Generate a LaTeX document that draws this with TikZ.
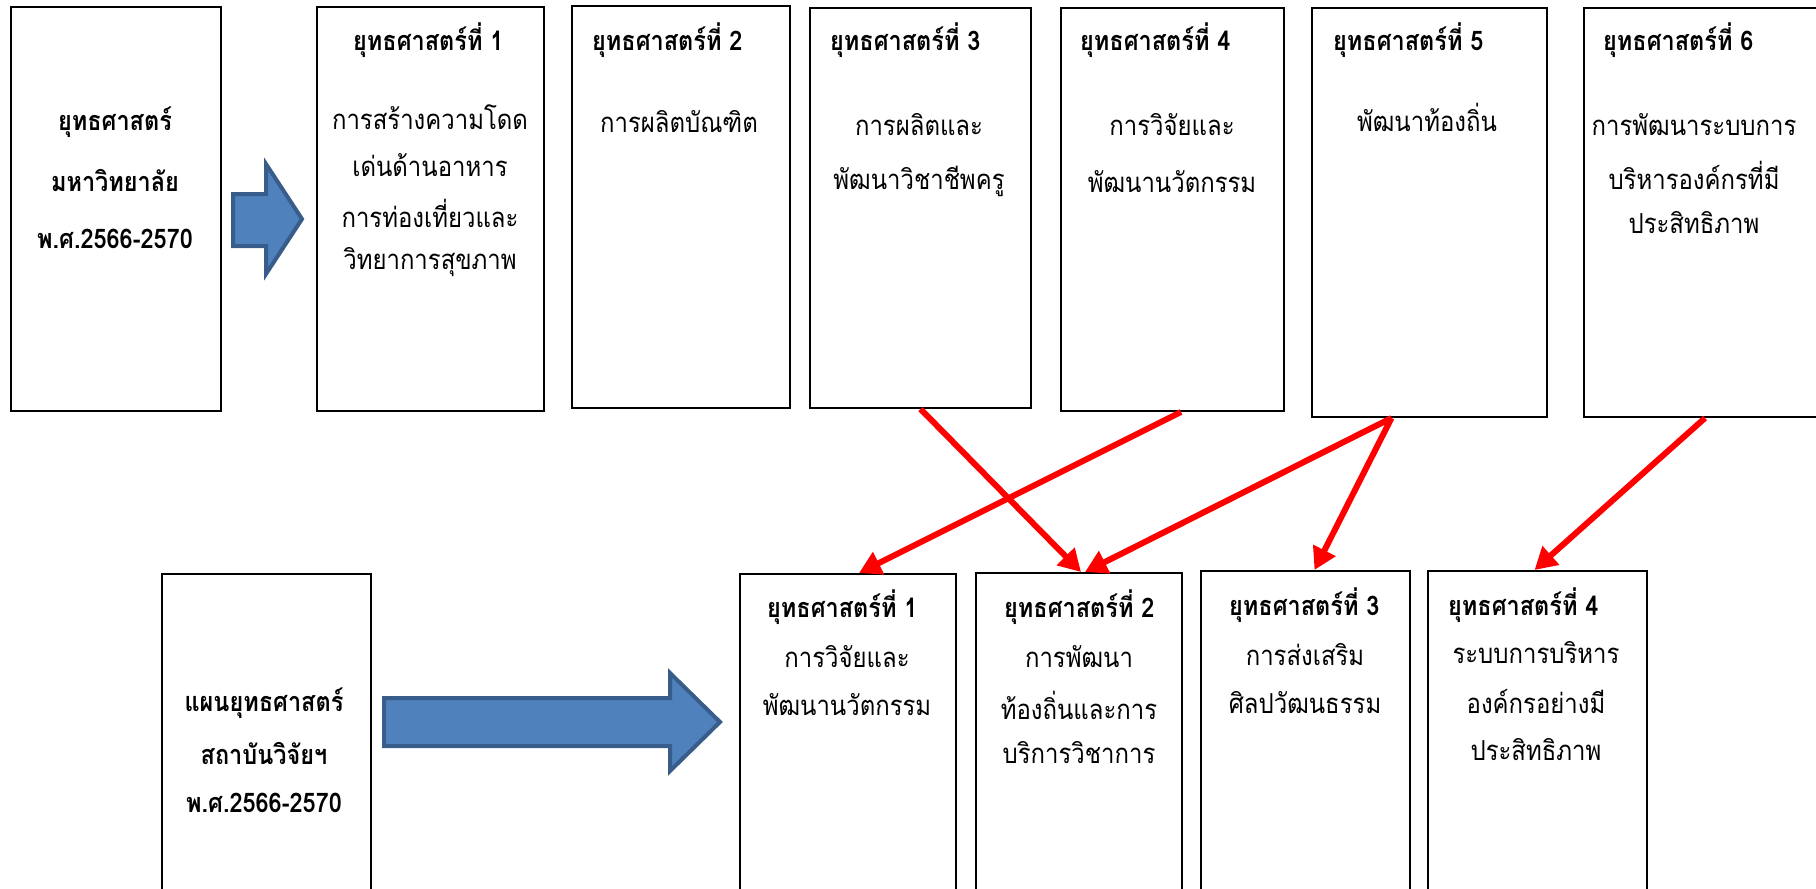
\documentclass[tikz,border=0pt]{standalone}
\usepackage{fontspec}
\setmainfont{Loma}[Script=Thai, FakeStretch=0.87]
\usetikzlibrary{arrows.meta,calc}
\definecolor{arrowblue}{HTML}{4F81BD}
\definecolor{arrowedge}{HTML}{385D8A}
\begin{document}
\begin{tikzpicture}[x=1pt,y=-1pt,
  box/.style={draw=black, line width=2pt, inner sep=0pt, anchor=north west},
  ttl/.style={font=\fontsize{27}{30}\selectfont\bfseries, inner sep=0pt},
  txt/.style={font=\fontsize{27.5}{30}\selectfont, inner sep=0pt},
  redarr/.style={draw=red, line width=6pt, -{Triangle[length=22pt,width=24pt]}},
  blockarr/.style={fill=arrowblue, draw=arrowedge, line width=4pt, line join=miter}
]
\useasboundingbox (0,0) rectangle (1816,889);
% top boxes
\node[box, minimum width=210pt, minimum height=404pt] (a) at (10,6) {};
\node[box, minimum width=227pt, minimum height=404pt] (t1) at (316,6) {};
\node[box, minimum width=218pt, minimum height=402pt] (t2) at (571,5) {};
\node[box, minimum width=221pt, minimum height=400pt] (t3) at (809,7) {};
\node[box, minimum width=223pt, minimum height=403pt] (t4) at (1060,7) {};
\node[box, minimum width=235pt, minimum height=409pt] (t5) at (1311,7) {};
\node[box, minimum width=260pt, minimum height=409pt] (t6) at (1583,7) {};
% bottom boxes
\node[box, minimum width=209pt, minimum height=340pt] (b) at (161,573) {};
\node[box, minimum width=216pt, minimum height=340pt] (s1) at (739,573) {};
\node[box, minimum width=206pt, minimum height=340pt] (s2) at (975,572) {};
\node[box, minimum width=209pt, minimum height=340pt] (s3) at (1200,570) {};
\node[box, minimum width=219pt, minimum height=340pt] (s4) at (1427,570) {};

% block arrows
\path[blockarr] (233,194) -- (266,194) -- (266,164) -- (302,219) -- (266,274) -- (266,246) -- (233,246) -- cycle;
\path[blockarr] (384,698) -- (670,698) -- (670,673) -- (720,722) -- (670,771) -- (670,746) -- (384,746) -- cycle;

% texts top
\node[ttl] (a1) at (115,122) {ยุทธศาสตร์};
\node[ttl] (a2) at (115,181) {มหาวิทยาลัย};
\node[ttl] (a3) at (115,239) {พ.ศ.2566-2570};

\node[ttl, anchor=west] (t1h) at (353,40) {ยุทธศาสตร์ที่ 1};
\node[txt] (t1a) at (430,117) {การสร้างความโดด};
\node[txt] (t1b) at (430,165) {เด่นด้านอาหาร};
\node[txt] (t1c) at (430,213) {การท่องเที่ยวและ};
\node[txt] (t1d) at (430,262) {วิทยาการสุขภาพ};

\node[ttl, anchor=west] (t2h) at (592,40) {ยุทธศาสตร์ที่ 2};
\node[txt] (t2a) at (679,122) {การผลิตบัณฑิต};

\node[ttl, anchor=west] (t3h) at (830,40) {ยุทธศาสตร์ที่ 3};
\node[txt] (t3a) at (919,125) {การผลิตและ};
\node[txt] (t3b) at (919,181) {พัฒนาวิชาชีพครู};

\node[ttl, anchor=west] (t4h) at (1080,40) {ยุทธศาสตร์ที่ 4};
\node[txt] (t4a) at (1172,125) {การวิจัยและ};
\node[txt] (t4b) at (1172,182) {พัฒนานวัตกรรม};

\node[ttl, anchor=west] (t5h) at (1333,40) {ยุทธศาสตร์ที่ 5};
\node[txt] (t5a) at (1427,117) {พัฒนาท้องถิ่น};

\node[ttl, anchor=west] (t6h) at (1603,40) {ยุทธศาสตร์ที่ 6};
\node[txt] (t6a) at (1694,125) {การพัฒนาระบบการ};
\node[txt] (t6b) at (1694,175) {บริหารองค์กรที่มี};
\node[txt] (t6c) at (1694,223) {ประสิทธิภาพ};

% texts bottom
\node[ttl] (b1) at (264,703) {แผนยุทธศาสตร์};
\node[ttl] (b2) at (264,753) {สถาบันวิจัยฯ};
\node[ttl] (b3) at (264,803) {พ.ศ.2566-2570};

\node[ttl, anchor=west] (s1h) at (767,607) {ยุทธศาสตร์ที่ 1};
\node[txt] (s1a) at (847,657) {การวิจัยและ};
\node[txt] (s1b) at (847,705) {พัฒนานวัตกรรม};

\node[ttl, anchor=west] (s2h) at (1004,607) {ยุทธศาสตร์ที่ 2};
\node[txt] (s2a) at (1079,657) {การพัฒนา};
\node[txt] (s2b) at (1079,705) {ท้องถิ่นและการ};
\node[txt] (s2c) at (1079,753) {บริการวิชาการ};

\node[ttl, anchor=west] (s3h) at (1229,605) {ยุทธศาสตร์ที่ 3};
\node[txt] (s3a) at (1305,655) {การส่งเสริม};
\node[txt] (s3b) at (1305,703) {ศิลปวัฒนธรรม};

\node[ttl, anchor=west] (s4h) at (1448,605) {ยุทธศาสตร์ที่ 4};
\node[txt] (s4a) at (1536,653) {ระบบการบริหาร};
\node[txt] (s4b) at (1536,702) {องค์กรอย่างมี};
\node[txt] (s4c) at (1536,750) {ประสิทธิภาพ};

% red connectors
\draw[redarr] (t3.south) -- ([xshift=2pt]s2.north);
\draw[redarr] ([xshift=8.5pt]t4.south) -- ([xshift=11pt]s1.north);
\draw[redarr] ([xshift=-38pt]t5.south) -- ([xshift=6pt]s2.north);
\draw[redarr] ([xshift=-38pt]t5.south) -- ([xshift=9pt]s3.north);
\draw[redarr] ([xshift=-9pt]t6.south) -- ([xshift=-3pt]s4.north);
\end{tikzpicture}
\end{document}
